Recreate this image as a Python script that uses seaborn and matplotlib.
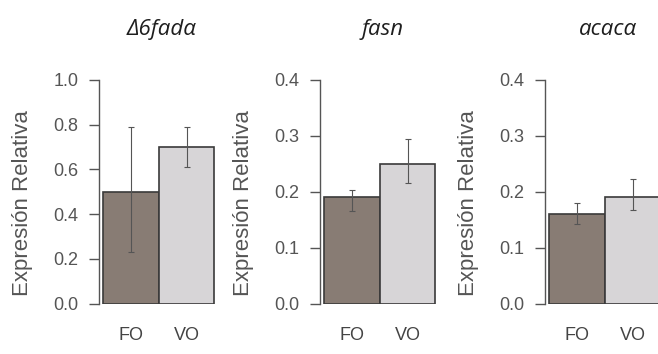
import numpy as np
import pandas as pd
import seaborn as sns
import matplotlib.pyplot as plt

# data
genes = ['Δ6fadα', 'fasn', 'acacα']
groups = ['FO', 'VO']
means = [[0.50, 0.70], [0.19, 0.25], [0.16, 0.19]]
err_low = [[0.23, 0.61], [0.166, 0.216], [0.143, 0.167]]
err_high = [[0.79, 0.79], [0.204, 0.295], [0.180, 0.223]]
y_max = [1.0, 0.4, 0.4]
y_ticks = [[0.0, 0.2, 0.4, 0.6, 0.8, 1.0], [0.0, 0.1, 0.2, 0.3, 0.4], [0.0, 0.1, 0.2, 0.3, 0.4]]

bar_colors = ['#8b7b71', '#d7d5d7']
ink = '#555555'

sns.set_style('white')
plt.rcParams['font.family'] = ['Liberation Sans', 'DejaVu Sans']

W, H = 658, 354
fig = plt.figure(figsize=(W / 100, H / 100), dpi=100)

lefts = [99, 320, 545]   # px of the y spine
bottom, height = 50.5, 223.5
ax_w = 118

for i, gene in enumerate(genes):
    ax = fig.add_axes([lefts[i] / W, bottom / H, ax_w / W, height / H])
    df = pd.DataFrame({'grupo': groups, 'valor': means[i]})
    sns.barplot(data=df, x='grupo', y='valor', hue='grupo', palette=bar_colors,
                width=1, edgecolor='#3a3a3a', linewidth=1.2, errorbar=None,
                legend=False, ax=ax)
    m = np.array(means[i])
    yerr = [m - np.array(err_low[i]), np.array(err_high[i]) - m]
    ax.errorbar([0, 1], m, yerr=yerr, fmt='none', ecolor='#555555',
                elinewidth=0.8, capsize=2.5, capthick=0.8)

    ax.set_xlim(-0.58, 1.55)
    ax.set_ylim(0, y_max[i])
    ax.set_yticks(y_ticks[i])
    ax.set_yticklabels([f'{t:.1f}' for t in y_ticks[i]])
    for s in ['top', 'right', 'bottom']:
        ax.spines[s].set_visible(False)
    ax.spines['left'].set_color(ink)
    ax.spines['left'].set_linewidth(1.0)
    ax.tick_params(axis='y', left=True, length=7, width=1.0, color=ink,
                   labelsize=13, labelcolor=ink, pad=8)
    ax.tick_params(axis='x', bottom=False, length=0, labelsize=13,
                   labelcolor='#444444', pad=17)
    ax.set_xlabel('')
    ax.set_ylabel('Expresión Relativa', fontsize=16, color=ink)
    ax.yaxis.set_label_coords(-0.56, 0.45)
    ax.set_title(gene, fontsize=16, style='italic', family='Open Sans',
                 color='#1e1e1e', x=0.53, y=1.165)

fig.savefig('out.png', dpi=100)
plt.close(fig)
